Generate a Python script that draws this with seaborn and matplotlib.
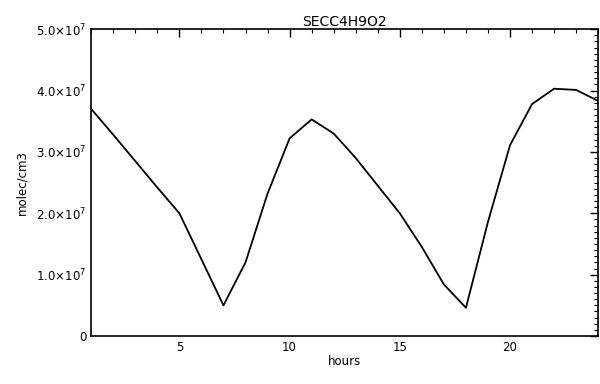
import numpy as np
import pandas as pd
import matplotlib
matplotlib.use("Agg")
import matplotlib.pyplot as plt
import seaborn as sns
from matplotlib.ticker import MultipleLocator, FixedLocator

# values (molec/cm3)
hours = list(range(1, 25))
conc = [3.70e7, 3.28e7, 2.85e7, 2.42e7, 2.00e7, 1.25e7, 0.50e7, 1.20e7,
        2.32e7, 3.22e7, 3.53e7, 3.30e7, 2.90e7, 2.45e7, 2.00e7, 1.45e7,
        0.84e7, 0.46e7, 1.86e7, 3.11e7, 3.78e7, 4.03e7, 4.01e7, 3.83e7]
ytick_vals = [0, 1e7, 2e7, 3e7, 4e7, 5e7]
ytick_labels = ["0", r"1.0$\times$10$^7$", r"2.0$\times$10$^7$", r"3.0$\times$10$^7$",
                r"4.0$\times$10$^7$", r"5.0$\times$10$^7$"]

df = pd.DataFrame({"hours": hours, "conc": conc})

sns.set_style("white")
plt.rcParams['font.family'] = ['DejaVu Sans']
plt.rcParams['text.color'] = 'black'
plt.rcParams['axes.labelcolor'] = 'black'
plt.rcParams['xtick.color'] = 'black'
plt.rcParams['ytick.color'] = 'black'

fig = plt.figure(figsize=(6, 3.84), dpi=100)
ax = fig.add_axes([0.152, 0.125, 0.845, 0.799])

sns.lineplot(data=df, x="hours", y="conc", color="black", linewidth=1.3, ax=ax)

ax.set_xlim(1, 24)
ax.set_ylim(0, 5e7)
ax.xaxis.set_major_locator(FixedLocator([5, 10, 15, 20]))
ax.xaxis.set_minor_locator(MultipleLocator(1))
ax.yaxis.set_major_locator(FixedLocator(ytick_vals))
ax.set_yticklabels(ytick_labels)
ax.yaxis.set_minor_locator(MultipleLocator(1e6))

ax.tick_params(which="both", direction="in", top=True, right=True, color="black")
ax.tick_params(which="major", length=6, width=1.0, labelsize=8.5)
ax.tick_params(which="minor", length=3, width=0.8)
for s in ax.spines.values():
    s.set_color("black")
    s.set_linewidth(1.2)

ax.set_title("SECC4H9O2", fontsize=10, pad=2, color="black")
ax.set_xlabel("hours", fontsize=8.5, labelpad=1)
ax.set_ylabel("molec/cm3", fontsize=8.5, labelpad=6)

fig.savefig("out.png", dpi=100)
